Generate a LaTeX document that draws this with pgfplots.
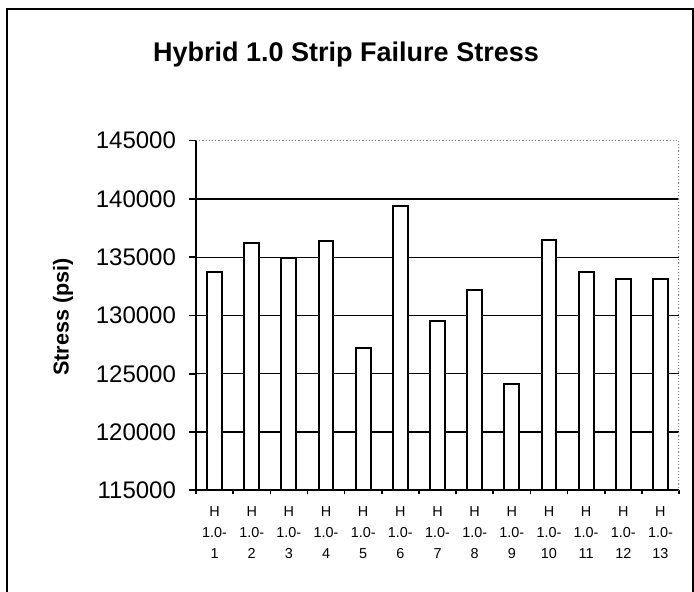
\documentclass[border=0pt]{standalone}
\usepackage{fontspec}
\setmainfont{Liberation Sans}
\usepackage{pgfplots}
\pgfplotsset{compat=1.18}

\begin{document}
\begin{tikzpicture}
% page: 694 x 592 px at 0.5pt per px
\useasboundingbox (0,0) rectangle (347pt,296pt);
\draw[line width=1pt] (3.5pt,0) -- (3.5pt,291.5pt) -- (346.5pt,291.5pt) -- (346.5pt,0);

\node[font=\fontsize{13.5}{16}\selectfont\bfseries] at (173pt,268.5pt) {Hybrid 1.0 Strip Failure Stress};
\node[font=\fontsize{10.8}{12}\selectfont\bfseries, rotate=90] at (31.5pt,137.5pt) {Stress (psi)};

\begin{axis}[
  at={(98pt,50.85pt)}, anchor=south west,
  scale only axis, width=241.5pt, height=174.8pt,
  axis x line*=bottom, axis y line*=left,
  axis line style={line width=1pt, -},
  xmin=0.5, xmax=13.5, ymin=115000, ymax=145000,
  ybar, bar width=0.4,
  xtick={1,...,13},
  xticklabels={{H\\1.0-\\1},{H\\1.0-\\2},{H\\1.0-\\3},{H\\1.0-\\4},{H\\1.0-\\5},{H\\1.0-\\6},{H\\1.0-\\7},{H\\1.0-\\8},{H\\1.0-\\9},{H\\1.0-\\10},{H\\1.0-\\11},{H\\1.0-\\12},{H\\1.0-\\13}},
  major x tick style={draw=none},
  minor xtick={0.5,1.5,...,13.5},
  minor tick length=2pt,
  tick align=outside, major tick length=3.5pt,
  tick style={black, line width=0.8pt},
  x tick label style={align=center, font=\fontsize{7.2}{10.5}\selectfont, yshift=-1pt},
  ytick={115000,120000,...,140000},
  yticklabel={\pgfmathparse{int(\tick)}\pgfmathresult},
  extra y ticks={145000},
  extra y tick labels={145000},
  extra y tick style={grid=none},
  ymajorgrids,
  major grid style={black, line width=0.7pt},
  scaled y ticks=false,
  y tick label style={font=\fontsize{12}{13}\selectfont, xshift=-3pt},
]
\addplot[draw=black, fill=white, line width=1pt] coordinates {
  (1,133700) (2,136200) (3,134900) (4,136400) (5,127200) (6,139400) (7,129500)
  (8,132200) (9,124100) (10,136500) (11,133700) (12,133100) (13,133100)
};
\draw[gray, densely dotted, line width=0.6pt] (rel axis cs:0,1) -- (rel axis cs:1,1) -- (rel axis cs:1,0);
\end{axis}
\end{tikzpicture}
\end{document}
